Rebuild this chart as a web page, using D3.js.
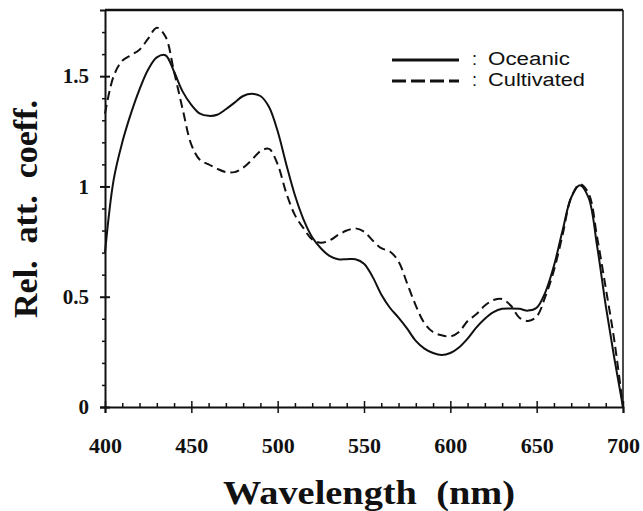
<!DOCTYPE html>
<html>
<head>
<meta charset="utf-8">
<script src="https://cdn.jsdelivr.net/npm/d3@7"></script>
<style>
  body { margin: 0; background: #fff; }
  svg { display: block; }
</style>
</head>
<body>
<script>
// wavelength grid (nm), read every 5 nm off the figure
const wavelengths = [400, 405, 410, 415, 420, 425, 430, 435, 440, 445, 450, 455, 460, 465, 470, 475,
  480, 485, 490, 495, 500, 505, 510, 515, 520, 525, 530, 535, 540, 545, 550, 555, 560, 565, 570,
  575, 580, 585, 590, 595, 600, 605, 610, 615, 620, 625, 630, 635, 640, 645, 650, 655, 660, 665,
  670, 675, 680, 685, 690, 695, 700]

const oceanic = [0.70, 1.03, 1.20, 1.33, 1.44, 1.53, 1.585, 1.595, 1.52, 1.43, 1.37, 1.33, 1.32, 1.325,
  1.35, 1.38, 1.41, 1.42, 1.41, 1.36, 1.25, 1.10, 0.96, 0.85, 0.77, 0.72, 0.685, 0.67, 0.67, 0.67,
  0.65, 0.59, 0.51, 0.45, 0.405, 0.355, 0.30, 0.265, 0.245, 0.236, 0.245, 0.27, 0.31, 0.36, 0.40,
  0.43, 0.445, 0.447, 0.445, 0.437, 0.45, 0.52, 0.64, 0.80, 0.95, 1.005, 0.95, 0.73, 0.46, 0.22, 0.0]

const cultivated = [1.33, 1.50, 1.57, 1.595, 1.62, 1.67, 1.72, 1.68, 1.52, 1.35, 1.19, 1.12, 1.10,
  1.08, 1.065, 1.065, 1.085, 1.12, 1.16, 1.17, 1.10, 0.97, 0.87, 0.81, 0.76, 0.745, 0.755, 0.78,
  0.80, 0.81, 0.795, 0.755, 0.72, 0.705, 0.66, 0.56, 0.46, 0.38, 0.34, 0.325, 0.32, 0.34, 0.39,
  0.42, 0.46, 0.485, 0.49, 0.46, 0.405, 0.39, 0.41, 0.50, 0.62, 0.78, 0.95, 1.01, 0.97, 0.77, 0.54,
  0.30, 0.0]

const xMajorTicks = [400, 450, 500, 550, 600, 650, 700]
const xMinorTicks = [410, 420, 430, 440, 460, 470, 480, 490, 510, 520, 530, 540, 560, 570, 580, 590,
  610, 620, 630, 640, 660, 670, 680, 690]
const yMajorTicks = [0, 0.5, 1, 1.5]
const yTickLabels = ['0', '0.5', '1', '1.5']
const yMinorTicks = [0.1, 0.2, 0.3, 0.4, 0.6, 0.7, 0.8, 0.9, 1.1, 1.2, 1.3, 1.4, 1.6, 1.7]

const seriesNames = ['Oceanic', 'Cultivated']

const width = 643
const height = 511
const margin = { top: 10, right: 20, bottom: 104, left: 105 }

const svg = d3.select('body').append('svg')
    .attr('width', width)
    .attr('height', height)

const x = d3.scaleLinear().domain([400, 700]).range([margin.left, width - margin.right])
const y = d3.scaleLinear().domain([0, 1.8]).range([height - margin.bottom, margin.top])

const serif = '"Liberation Serif", "DejaVu Serif", serif'
const ink = '#111'

// frame: top and right
svg.append('line')
    .attr('x1', x(400)).attr('x2', x(700))
    .attr('y1', y(1.8)).attr('y2', y(1.8))
    .attr('stroke', ink).attr('stroke-width', 2.5)
svg.append('line')
    .attr('x1', x(700)).attr('x2', x(700))
    .attr('y1', y(1.8)).attr('y2', y(0))
    .attr('stroke', ink).attr('stroke-width', 1.5)

// y axis
const yAxis = svg.append('g')
    .attr('transform', `translate(${x(400)},0)`)
    .call(d3.axisLeft(y).tickValues(yMajorTicks).tickSize(5).tickPadding(11)
        .tickFormat((d, i) => yTickLabels[i]))
yAxis.select('.domain').attr('stroke', ink).attr('stroke-width', 2)
yAxis.selectAll('.tick line').attr('stroke', ink).attr('stroke-width', 2)
yAxis.selectAll('text')
    .attr('font-family', serif).attr('font-weight', 'bold').attr('font-size', 21).attr('fill', ink)

svg.append('g')
    .attr('transform', `translate(${x(400)},0)`)
    .call(d3.axisRight(y).tickValues(yMajorTicks).tickSize(5).tickFormat(''))
    .call(g => g.select('.domain').remove())
    .selectAll('.tick line').attr('stroke', ink).attr('stroke-width', 2)

svg.append('g')
    .attr('transform', `translate(${x(400)},0)`)
    .call(d3.axisLeft(y).tickValues(yMinorTicks).tickSize(3).tickFormat(''))
    .call(g => g.select('.domain').remove())
    .selectAll('.tick line').attr('stroke', ink).attr('stroke-width', 1.5)

// x axis
const xAxis = svg.append('g')
    .attr('transform', `translate(0,${y(0)})`)
    .call(d3.axisBottom(x).tickValues(xMajorTicks).tickSize(6).tickPadding(24).tickFormat(d3.format('d')))
xAxis.select('.domain').attr('stroke', ink).attr('stroke-width', 2)
xAxis.selectAll('.tick line').attr('stroke', ink).attr('stroke-width', 1.5)
xAxis.selectAll('text')
    .attr('font-family', serif).attr('font-weight', 'bold').attr('font-size', 22).attr('fill', ink)

svg.append('g')
    .attr('transform', `translate(0,${y(0)})`)
    .call(d3.axisTop(x).tickValues(xMajorTicks).tickSize(6).tickFormat(''))
    .call(g => g.select('.domain').remove())
    .selectAll('.tick line').attr('stroke', ink).attr('stroke-width', 1.5)

svg.append('g')
    .attr('transform', `translate(0,${y(0)})`)
    .call(d3.axisTop(x).tickValues(xMinorTicks).tickSize(4).tickFormat(''))
    .call(g => g.select('.domain').remove())
    .selectAll('.tick line').attr('stroke', ink).attr('stroke-width', 1.5)

// curves
const line = d3.line()
    .x((d, i) => x(wavelengths[i]))
    .y(d => y(d))
    .curve(d3.curveCatmullRom.alpha(0.5))

svg.append('path')
    .datum(oceanic)
    .attr('d', line)
    .attr('fill', 'none')
    .attr('stroke', ink)
    .attr('stroke-width', 2)

svg.append('path')
    .datum(cultivated)
    .attr('d', line)
    .attr('fill', 'none')
    .attr('stroke', ink)
    .attr('stroke-width', 2)
    .attr('stroke-dasharray', '9,5')

// legend
const legend = svg.append('g')
const legendRows = [
  { name: seriesNames[0], dash: null, ly: 60, len: 82 },
  { name: seriesNames[1], dash: '14,5', ly: 81, len: 97 }
]
legendRows.forEach(r => {
  legend.append('line')
      .attr('x1', 392).attr('x2', 459)
      .attr('y1', r.ly).attr('y2', r.ly)
      .attr('stroke', ink).attr('stroke-width', 3)
      .attr('stroke-dasharray', r.dash)
  legend.append('text')
      .attr('x', 472).attr('y', r.ly + 5)
      .attr('font-family', '"Liberation Sans", sans-serif').attr('font-size', 18).attr('fill', ink)
      .text(':')
  legend.append('text')
      .attr('x', 488).attr('y', r.ly + 5)
      .attr('font-family', '"Liberation Sans", sans-serif').attr('font-size', 18).attr('fill', ink)
      .attr('textLength', r.len).attr('lengthAdjust', 'spacingAndGlyphs')
      .text(r.name)
})

// axis titles
svg.append('text')
    .attr('x', 223).attr('y', 504)
    .attr('font-family', serif).attr('font-weight', 'bold').attr('font-size', 33).attr('fill', ink)
    .attr('textLength', 292).attr('lengthAdjust', 'spacingAndGlyphs')
    .text('Wavelength\u00a0\u00a0(nm)')

svg.append('text')
    .attr('transform', 'translate(37,318) rotate(-90)')
    .attr('font-family', serif).attr('font-weight', 'bold').attr('font-size', 33).attr('fill', ink)
    .attr('textLength', 218).attr('lengthAdjust', 'spacingAndGlyphs')
    .text('Rel.\u00a0\u00a0att.\u00a0\u00a0coeff.')
</script>
</body>
</html>
